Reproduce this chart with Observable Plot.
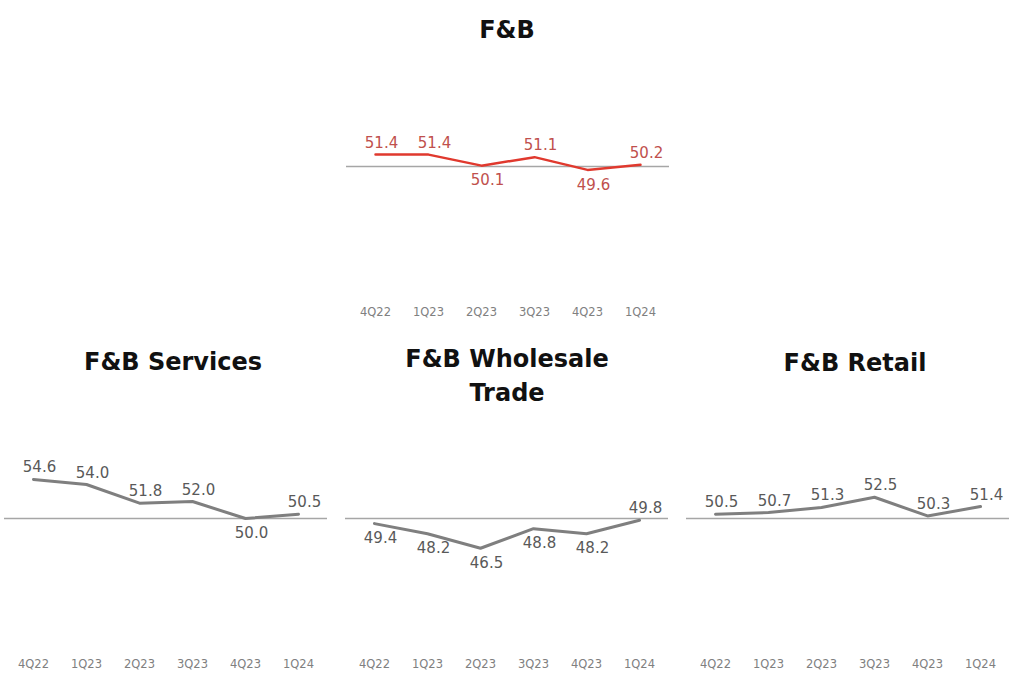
<!DOCTYPE html>
<html><head><meta charset="utf-8">
<script src="https://cdn.jsdelivr.net/npm/d3@7"></script>
<script src="https://cdn.jsdelivr.net/npm/@observablehq/plot@0.6"></script>
<style>
body{margin:0;background:#fff;}
#wrap{position:relative;width:1024px;height:683px;overflow:hidden;font-family:"DejaVu Sans",sans-serif;background:#fff;}
.title{position:absolute;font-weight:bold;font-size:24px;color:#111;text-align:center;line-height:34px;transform:translate(-50%,-50%);white-space:nowrap;}
.panel{position:absolute;}
</style></head><body><div id="wrap"></div>
<script>
const quarters = ["4Q22", "1Q23", "2Q23", "3Q23", "4Q23", "1Q24"];

const fbValues        = [51.4, 51.4, 50.1, 51.1, 49.6, 50.2];
const servicesValues  = [54.6, 54.0, 51.8, 52.0, 50.0, 50.5];
const wholesaleValues = [49.4, 48.2, 46.5, 48.8, 48.2, 49.8];
const retailValues    = [50.5, 50.7, 51.3, 52.5, 50.3, 51.4];

// label placement relative to the point
const fbPlacement        = ["above", "above", "below", "above", "below", "above"];
const servicesPlacement  = ["above", "above", "above", "above", "below", "above"];
const wholesalePlacement = ["below", "below", "below", "below", "below", "above"];
const retailPlacement    = ["above", "above", "above", "above", "above", "above"];

const threshold = 50;

const panels = [
  {title: "F&B", values: fbValues, placement: fbPlacement, line: "#e0392e", label: "#c0504d", left: 341, top: 0, tx: 507, ty: 30},
  {title: "F&B Services", values: servicesValues, placement: servicesPlacement, line: "#7f7f7f", label: "#595959", left: -1, top: 352, tx: 173, ty: 362},
  {title: "F&B Wholesale<br>Trade", values: wholesaleValues, placement: wholesalePlacement, line: "#7f7f7f", label: "#595959", left: 340, top: 352, tx: 507, ty: 376},
  {title: "F&B Retail", values: retailValues, placement: retailPlacement, line: "#7f7f7f", label: "#595959", left: 681, top: 352, tx: 855, ty: 363}
];

const wrap = document.getElementById("wrap");

for (const p of panels) {
  const data = quarters.map((q, i) => ({q, v: p.values[i], pos: p.placement[i]}));
  const chart = Plot.plot({
    width: 340,
    height: 328,
    marginLeft: 5,
    marginRight: 12,
    marginTop: 98,
    marginBottom: 111,
    style: {background: "transparent", overflow: "visible", fontFamily: "DejaVu Sans, sans-serif", fontSize: "11.5px"},
    x: {type: "point", domain: quarters, padding: 0.5, axis: null, label: null},
    y: {domain: [44, 58], axis: null},
    marks: [
      Plot.ruleY([threshold], {stroke: "#a6a6a6", strokeWidth: 1.3}),
      Plot.lineY(data, {x: "q", y: "v", stroke: p.line, strokeWidth: p.line === "#7f7f7f" ? 3 : 2.5, strokeLinejoin: "miter"}),
      Plot.text(data.filter(d => d.pos === "above"), {x: "q", y: "v", text: d => d.v.toFixed(1), fill: p.label, fontSize: 15, lineAnchor: "bottom", dy: -7, dx: 6}),
      Plot.text(data.filter(d => d.pos === "below"), {x: "q", y: "v", text: d => d.v.toFixed(1), fill: p.label, fontSize: 15, lineAnchor: "top", dy: 9, dx: 6}),
      Plot.axisX({tickSize: 0, tickPadding: 90, color: "#808080", fontSize: 11.5, label: null})
    ]
  });
  const div = document.createElement("div");
  div.className = "panel";
  div.style.left = p.left + "px";
  div.style.top = p.top + "px";
  div.appendChild(chart);
  wrap.appendChild(div);

  const t = document.createElement("div");
  t.className = "title";
  t.innerHTML = p.title;
  t.style.left = p.tx + "px";
  t.style.top = p.ty + "px";
  wrap.appendChild(t);
}
</script>
</body></html>
